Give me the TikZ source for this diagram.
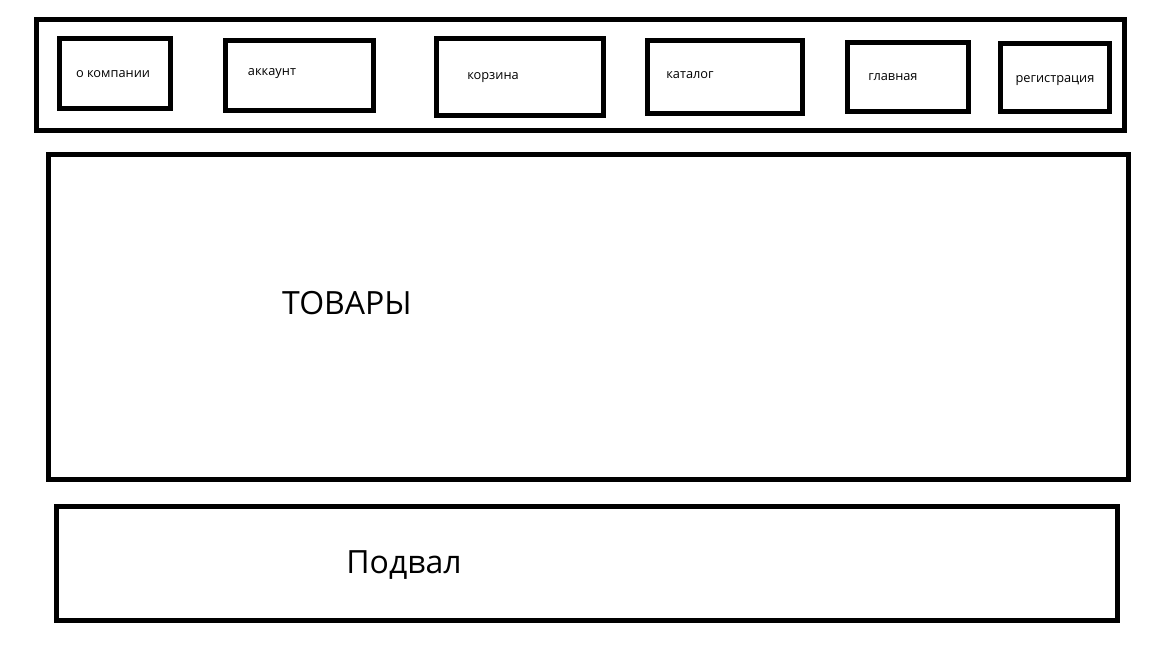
\documentclass[tikz,border=0pt]{standalone}
\usepackage{fontspec}
\setmainfont{Open Sans}
\begin{document}
\begin{tikzpicture}[x=1pt,y=-1pt,
  box/.style={draw=black,line width=5pt,rectangle,inner sep=0pt},
  small/.style={font=\fontsize{12.8}{14}\selectfont,inner sep=0pt,text height=6.9pt,text depth=0pt},
  big/.style={font=\fontsize{32}{38}\selectfont,inner sep=0pt,text height=22.8pt,text depth=0pt}]
\useasboundingbox[fill=white] (0,0) rectangle (1152,648);
% top bar
\node[box,minimum width=1088pt,minimum height=111pt] (top) at (580,74.5) {};
\node[box,minimum width=111pt,minimum height=70pt] (b1) at (114.5,73) {};
\node[box,minimum width=148pt,minimum height=70pt] (b2) at (299,75) {};
\node[box,minimum width=167pt,minimum height=77pt] (b3) at (519.5,76.5) {};
\node[box,minimum width=155pt,minimum height=73pt] (b4) at (724.5,76.5) {};
\node[box,minimum width=121pt,minimum height=69pt] (b5) at (907.5,76.5) {};
\node[box,minimum width=109pt,minimum height=68pt] (b6) at (1054.5,77) {};
\node[small] (t1) at (113,74) {о компании};
\node[small] (t2) at (272,72) {аккаунт};
\node[small] (t3) at (493,76) {корзина};
\node[small] (t4) at (690,75) {каталог};
\node[small] (t5) at (893,77) {главная};
\node[small] (t6) at (1055,79) {регистрация};
% goods
\node[box,minimum width=1080pt,minimum height=325pt] (goods) at (588,316.5) {};
\node[big] (tgoods) at (347,303) {ТОВАРЫ};
% footer
\node[box,minimum width=1061pt,minimum height=114pt] (footer) at (586.5,563) {};
\node[big] (tfooter) at (404,562) {Подвал};
\end{tikzpicture}
\end{document}
